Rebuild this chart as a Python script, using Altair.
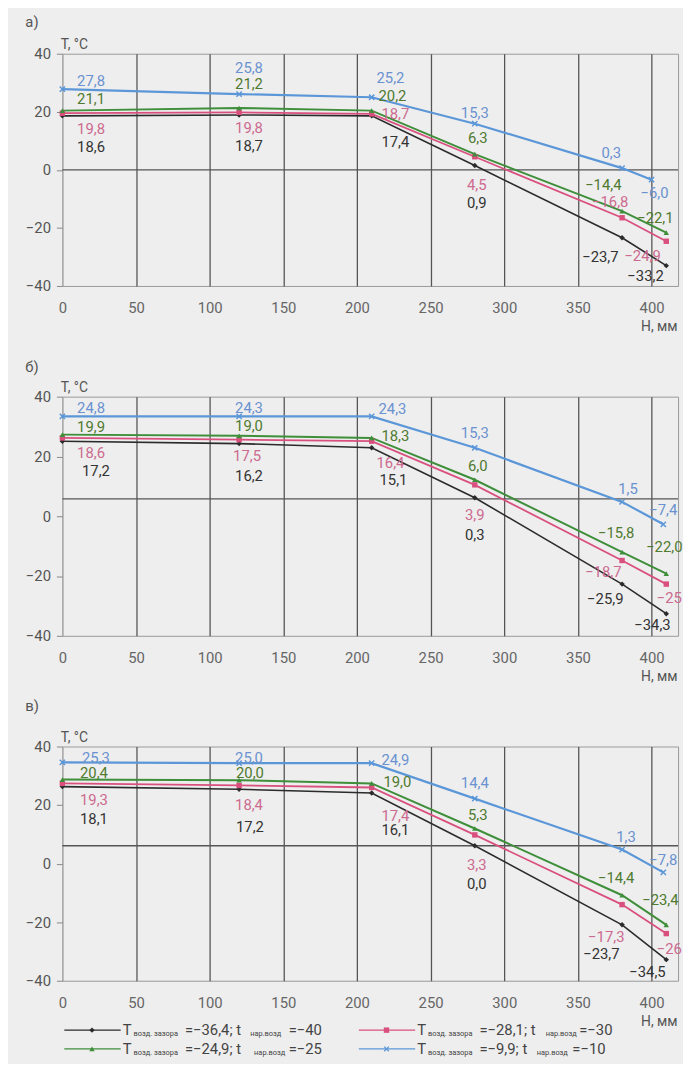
import altair as alt
import pandas as pd

# ---------------- data ----------------
H = [0, 120, 210, 280, 380, 410]
H_BLUE_END = {"a": 400, "b": 408, "c": 408}
SERIES = ["black", "red", "green", "blue"]

T_A = {
    "black": [18.6, 18.9, 18.6, 1.5, -23.4, -33.0],
    "red":   [19.5, 19.8, 19.3, 4.5, -16.5, -24.6],
    "green": [20.4, 21.3, 20.4, 5.4, -14.2, -21.6],
    "blue":  [27.8, 26.1, 25.0, 15.9, 0.6, -3.4],
}
T_B = {
    "black": [25.1, 24.3, 22.9, 6.2, -22.7, -32.6],
    "red":   [26.2, 25.6, 25.1, 10.5, -14.8, -22.7],
    "green": [27.3, 26.9, 26.2, 12.2, -12.0, -19.2],
    "blue":  [33.4, 33.4, 33.4, 22.9, 4.8, -2.7],
}
T_C = {
    "black": [26.3, 25.4, 24.1, 6.1, -20.9, -32.8],
    "red":   [27.4, 26.7, 26.0, 9.8, -14.0, -23.9],
    "green": [28.7, 28.5, 27.4, 12.0, -10.8, -20.9],
    "blue":  [34.6, 34.3, 34.3, 22.2, 4.8, -3.0],
}
LBL_A = {
    "black": ["18,6", "18,7", "17,4", "0,9", "−23,7", "−33,2"],
    "red":   ["19,8", "19,8", "18,7", "4,5", "−16,8", "−24,9"],
    "green": ["21,1", "21,2", "20,2", "6,3", "−14,4", "−22,1"],
    "blue":  ["27,8", "25,8", "25,2", "15,3", "0,3", "−6,0"],
}
LBL_B = {
    "black": ["17,2", "16,2", "15,1", "0,3", "−25,9", "−34,3"],
    "red":   ["18,6", "17,5", "16,4", "3,9", "−18,7", "−25"],
    "green": ["19,9", "19,0", "18,3", "6,0", "−15,8", "−22,0"],
    "blue":  ["24,8", "24,3", "24,3", "15,3", "1,5", "−7,4"],
}
LBL_C = {
    "black": ["18,1", "17,2", "16,1", "0,0", "−23,7", "−34,5"],
    "red":   ["19,3", "18,4", "17,4", "3,3", "−17,3", "−26"],
    "green": ["20,4", "20,0", "19,0", "5,3", "−14,4", "−23,4"],
    "blue":  ["25,3", "25,0", "24,9", "14,4", "1,3", "−7,8"],
}
ZERO_LINE = {"a": 0.0, "b": 5.8, "c": 6.1}

LEG_SERIES = ["black", "red", "green", "blue"]
LEG_T_GAP = ["−36,4", "−28,1", "−24,9", "−9,9"]
LEG_T_AIR = ["−40", "−30", "−25", "−10"]

T_ALL = {"a": T_A, "b": T_B, "c": T_C}
LBL_ALL = {"a": LBL_A, "b": LBL_B, "c": LBL_C}

# ---------------- style ----------------
FONT = "Roboto"
LINE_COLORS = ["#2b2b2b", "#d9507e", "#3e8e3a", "#5b97d8"]
TEXT_COLORS = ["#333333", "#cc6a8f", "#4f7a30", "#6a92d0"]
STROKES = [1.6, 2.2, 2.2, 2.0]

# label pixel offsets (dx, dy) from their point
OFF = {
    "a": {
        "blue":  [(29, -8), (10, -26), (19, -19), (0, -11), (-11, -15), (3, 14)],
        "green": [(29, -12), (10, -24), (21, -15), (3, -16), (-19, -26), (-11, -15)],
        "red":   [(29, 16), (10, 16), (24, 0), (2, 29), (-12, -16), (-24, 15)],
        "black": [(29, 32), (10, 31), (24, 27), (2, 38), (-22, 20), (-21, 11)],
    },
    "b": {
        "blue":  [(29, -8), (10, -8), (21, -7), (0, -15), (6, -13), (0, -14)],
        "green": [(29, -8), (10, -10), (24, -2), (3, -14), (-6, -19), (-2, -27)],
        "red":   [(29, 15), (8, 17), (19, 22), (0, 31), (-19, 12), (3, 14)],
        "black": [(34, 30), (10, 33), (22, 33), (0, 38), (-17, 15), (-14, 12)],
    },
    "c": {
        "blue":  [(34, -4), (10, -5), (24, -3), (0, -16), (4, -13), (0, -12)],
        "green": [(32, -7), (11, -7), (26, -1), (3, -14), (-6, -17), (-6, -25)],
        "red":   [(32, 17), (10, 20), (24, 29), (2, 30), (-16, 33), (3, 16)],
        "black": [(32, 33), (11, 38), (24, 37), (2, 39), (-21, 30), (-19, 13)],
    },
}
LEG_COL = [0, 1, 0, 1]
LEG_ROW = [0, 0, 1, 1]
LEG_SUB2_DX = [188, 189, 192, 180]
LEG_END_DX = [227, 223, 227, 216]
LEG_PX = 298.0  # pixels between legend columns

W = 623
XMAX = 418
HEIGHTS = {"a": 235, "b": 242, "c": 237}
TITLES = {"a": "а)", "b": "б)", "c": "в)"}
TITLE_OFF = {"a": 8, "b": 6, "c": 17}


def panel(key, with_legend=False):
    rows = []
    for s in SERIES:
        hs = H[:-1] + [H_BLUE_END[key]] if s == "blue" else H
        for i, (h, t, l) in enumerate(zip(hs, T_ALL[key][s], LBL_ALL[key][s])):
            dx, dy = OFF[key][s][i]
            rows.append(dict(H=h, T=t, series=s, label=l, dx=dx, dy=dy))
    df = pd.DataFrame(rows)
    base = alt.Chart(df)
    hgt = HEIGHTS[key]

    xscale = alt.Scale(domain=[0, XMAX], nice=False, zero=False)
    yscale = alt.Scale(domain=[-40, 40], nice=False)
    x = alt.X(
        "H:Q", scale=xscale,
        axis=alt.Axis(
            values=list(range(0, 401, 50)), format="d", title="H, мм",
            titleX=W - 1, titleY=41, titleAlign="right", titleBaseline="middle",
            titleFontSize=14, titleFontWeight="normal", titleColor="#555", titleFont=FONT,
            ticks=False, labelPadding=15, labelFontSize=15, labelColor="#666",
            labelFont=FONT, labelFlush=False, labelOverlap=False,
            domain=False,
            grid=True,
            gridColor={"condition": {"test": "datum.value === 0", "value": "#aaaaaa"}, "value": "#555555"},
            gridWidth=1.3,
        ),
    )
    y = alt.Y(
        "T:Q", scale=yscale,
        axis=alt.Axis(
            values=list(range(-40, 41, 10)), format="d", title="T, °C",
            titleAngle=0, titleAlign="left", titleBaseline="bottom", titleX=-2, titleY=-2,
            titleFontSize=14, titleFontWeight="normal", titleColor="#555", titleFont=FONT,
            labelFontSize=15, labelColor="#555", labelFont=FONT, labelFlush=False,
            labelOverlap=False, tickSize=6, tickColor="#888", labelPadding=6,
            domain=False, grid=False,
        ),
    )
    color = alt.Color("series:N", scale=alt.Scale(domain=SERIES, range=LINE_COLORS), legend=None)

    zero = alt.Chart(pd.DataFrame({"T": [ZERO_LINE[key]]})).mark_rule(
        color="#555555", strokeWidth=1.3
    ).encode(y=y)

    lines = base.mark_line().encode(
        x=x, y=y, color=color,
        strokeWidth=alt.StrokeWidth("series:N", scale=alt.Scale(domain=SERIES, range=STROKES), legend=None),
    )
    shape = alt.Shape("series:N", scale=alt.Scale(domain=["black", "red", "green"],
                                                 range=["diamond", "square", "triangle-up"]), legend=None)
    pts = base.transform_filter("datum.series != 'blue'").mark_point(
        filled=True, size=30, opacity=1).encode(x="H:Q", y="T:Q", color=color, shape=shape)
    pts_b = base.transform_filter("datum.series == 'blue'").mark_point(
        shape="M-1,-1L1,1M-1,1L1,-1", size=28, filled=False, strokeWidth=1.5,
        color=LINE_COLORS[3], opacity=1).encode(x="H:Q", y="T:Q")
    labels = base.transform_calculate(
        lx=f"datum.H + datum.dx * {XMAX} / {W}",
        ly=f"datum.T - datum.dy * 80 / {hgt}",
    ).mark_text(fontSize=15, font=FONT).encode(
        x="lx:Q", y="ly:Q",
        text="label:N",
        fill=alt.Fill("series:N", scale=alt.Scale(domain=SERIES, range=TEXT_COLORS), legend=None),
    )
    inner = alt.layer(zero, lines, pts, pts_b, labels)

    if with_legend:
        ldf = pd.DataFrame({
            "series": LEG_SERIES, "col": LEG_COL, "row": LEG_ROW,
            "mid": ["=" + a + "; t" for a in LEG_T_GAP],
            "end": ["=" + b for b in LEG_T_AIR],
            "sub2dx": LEG_SUB2_DX, "enddx": LEG_END_DX,
        })
        lb = alt.Chart(ldf).transform_calculate(
            c2=f"datum.col + datum.sub2dx / {LEG_PX}",
            c3=f"datum.col + datum.enddx / {LEG_PX}",
        )
        lsc = alt.Scale(domain=[0, 1], range=[2, 2 + LEG_PX])
        lx = alt.X("col:Q", scale=lsc, axis=None)
        ly = alt.Y("row:Q", scale=alt.Scale(domain=[0, 1], range=[hgt + 50, hgt + 69]), axis=None)
        lrule = lb.mark_rule(x2Offset=57, strokeWidth=1.2).encode(
            x=lx, x2="col:Q", y=ly, color=color)
        lpts = lb.transform_filter("datum.series != 'blue'").mark_point(
            filled=True, size=30, opacity=1, xOffset=28).encode(x=lx, y=ly, color=color, shape=shape)
        lpts_b = lb.transform_filter("datum.series == 'blue'").mark_point(
            shape="M-1,-1L1,1M-1,1L1,-1", size=22, filled=False, strokeWidth=1.3,
            color=LINE_COLORS[3], opacity=1, xOffset=28).encode(x=lx, y=ly)
        tcol = "#444444"
        lT = lb.mark_text(text="T", align="left", dx=59, fontSize=15, font=FONT, color=tcol).encode(x=lx, y=ly)
        lsub1 = lb.mark_text(text="возд. зазора", align="left", dx=70, dy=4, fontSize=7.5,
                             font=FONT, color=tcol).encode(x=lx, y=ly)
        lmid = lb.mark_text(align="left", dx=122, fontSize=15, font=FONT, color=tcol).encode(
            x=lx, y=ly, text="mid:N")
        lsub2 = lb.mark_text(text="нар.возд", align="left", dy=4, fontSize=7.5, font=FONT,
                             color=tcol).encode(x=alt.X("c2:Q", scale=lsc, axis=None), y=ly)
        lend = lb.mark_text(align="left", fontSize=15, font=FONT, color=tcol).encode(
            x=alt.X("c3:Q", scale=lsc, axis=None), y=ly, text="end:N")
        leg = alt.layer(lrule, lpts, lpts_b, lT, lsub1, lmid, lsub2, lend)
        chart = alt.layer(inner, leg).resolve_scale(x="independent", y="independent")
    else:
        chart = inner

    return chart.properties(
        width=W, height=hgt,
        title=alt.Title(TITLES[key], anchor="start", fontSize=15, fontWeight="normal",
                        color="#555", font=FONT, offset=TITLE_OFF[key]),
    )


chart = alt.vconcat(panel("a"), panel("b"), panel("c", with_legend=True),
                    spacing=112, bounds="flush").properties(
    padding={"left": 17, "top": 0, "right": 0, "bottom": 0},
    background="#eeeeee",
).configure_view(stroke="#9a9a9a", strokeWidth=1)

chart.save("out.html", embed_options={"renderer": "svg", "actions": False})
